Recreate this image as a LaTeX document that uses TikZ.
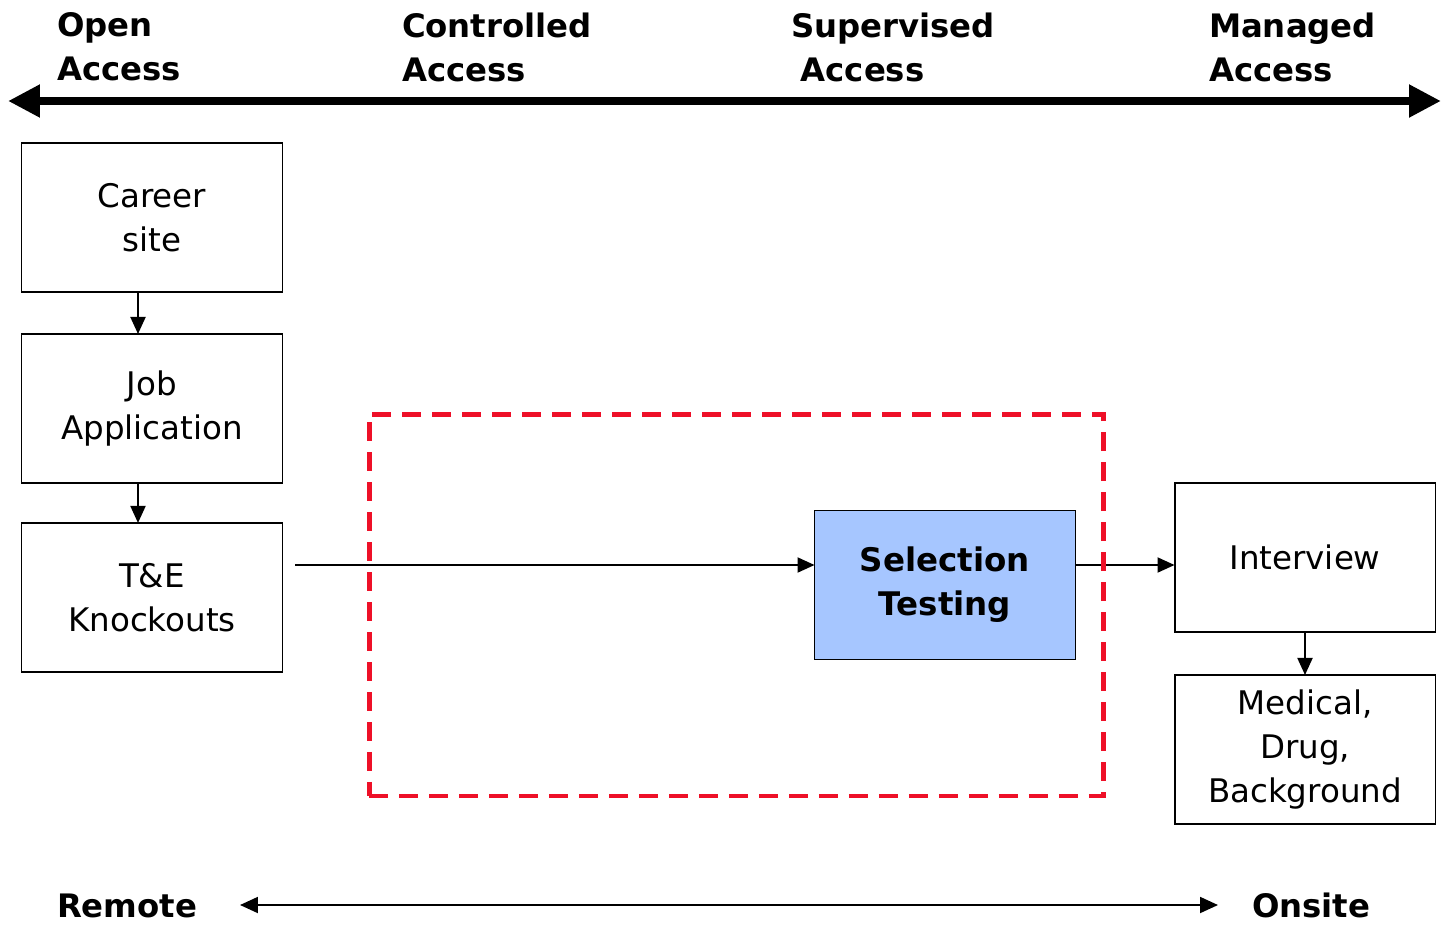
\documentclass[tikz,border=0pt]{standalone}
\usepackage{fontspec}
\setmainfont{DejaVu Sans}
\usetikzlibrary{positioning, arrows.meta}

\definecolor{selblue}{RGB}{166,198,255}
\definecolor{framered}{RGB}{238,16,40}

\begin{document}
\begin{tikzpicture}[x=0.02cm, y=-0.02cm, node distance=0.84cm]
	\tikzstyle{every node}=[font=\fontsize{18.5}{25}\selectfont, inner sep=0pt, outer sep=0pt]
	\tikzstyle{stage}=[draw, line width=1.1pt, minimum width=5.22cm, minimum height=2.98cm, align=center]
	\tikzstyle{heading}=[font=\fontsize{18.4}{25}\selectfont\bfseries, align=left, anchor=west]
	\tikzstyle{flow}=[draw, line width=1.1pt, -{Triangle[length=0.34cm, width=0.3cm]}]
	\useasboundingbox (0,0) rectangle (1441,924);

	% access scale
	\node[heading] (open) at (57,47) {Open\\Access};
	\node[heading] (controlled) at (402,47) {Controlled\\Access};
	\node[heading] (supervised) at (791,47) {Supervised\\\hspace*{0.3em}Access};
	\node[heading] (managed) at (1209,47) {Managed\\Access};
	\coordinate (openend) at (8,101);
	\coordinate (managedend) at (1441,101);
	\draw[line width=4.8pt, {Triangle[length=0.64cm, width=0.62cm]}-{Triangle[length=0.64cm, width=0.62cm]}] (openend) -- (managedend);

	% stages
	\node[stage] (career) at (152,217.5) {Career\\site};
	\node[stage, below=of career] (jobapp) {Job\\Application};
	\node[stage, below=0.8cm of jobapp] (knockouts) {T\&E\\Knockouts};
	\node[stage, fill=selblue, font=\fontsize{18.5}{25}\selectfont\bfseries] (selection) at (945,585) {Selection\\Testing};
	\node[stage] (interview) at (1305,557.5) {Interview};
	\node[stage, below=0.86cm of interview] (medical) {Medical,\\Drug,\\Background};

	\coordinate (testin) at (295,565);
	\draw[flow] ([xshift=-0.28cm]career.south) -- ([xshift=-0.28cm]jobapp.north);
	\draw[flow] ([xshift=-0.28cm]jobapp.south) -- ([xshift=-0.28cm]knockouts.north);
	\draw[flow] (testin) -- (testin -| selection.west);
	\draw[flow] (selection.east |- testin) -- (interview.west |- testin);
	\draw[flow] (interview) -- (medical);

	% testing window
	\node[draw=framered, line width=2.8pt, dash pattern=on 0.38cm off 0.22cm, minimum width=14.7cm, minimum height=7.64cm] (window) at (736.5,605) {};

	% remote / onsite
	\node[font=\fontsize{18.4}{25}\selectfont\bfseries, anchor=base west] (remote) at (57,917) {Remote};
	\node[font=\fontsize{18.4}{25}\selectfont\bfseries, anchor=base west] (onsite) at (1252,917) {Onsite};
	\coordinate (remoteend) at (240,905);
	\coordinate (onsiteend) at (1218,905);
	\draw[line width=1.1pt, {Triangle[length=0.36cm, width=0.32cm]}-{Triangle[length=0.36cm, width=0.32cm]}] (remoteend) -- (onsiteend);
\end{tikzpicture}
\end{document}
